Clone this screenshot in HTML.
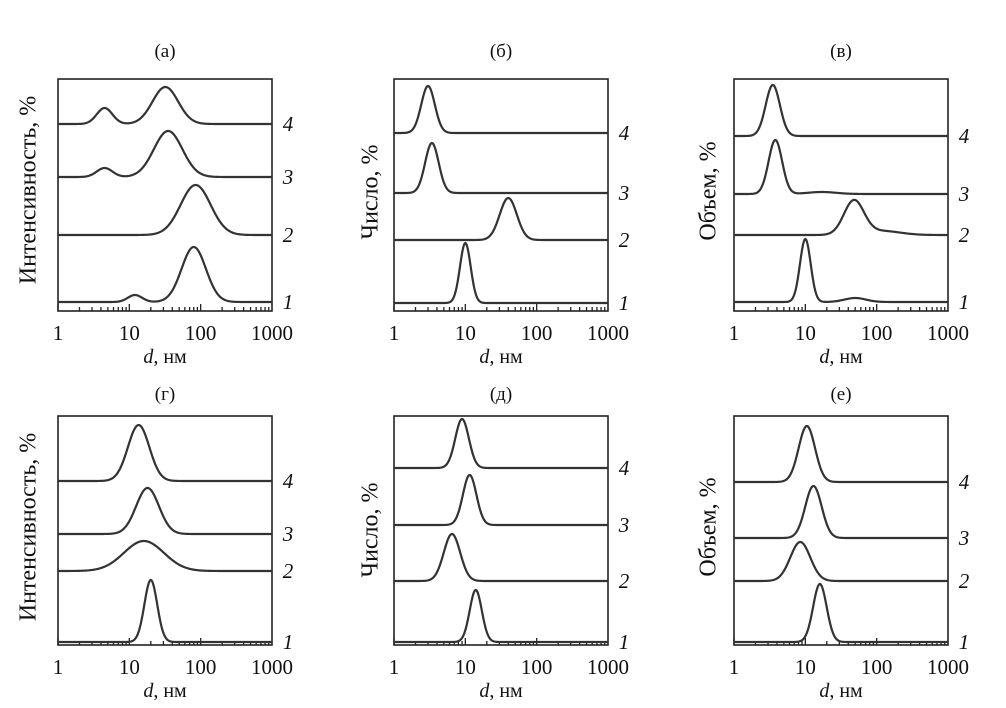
<!DOCTYPE html>
<html><head><meta charset="utf-8">
<style>
html,body{margin:0;padding:0;background:#fff;}
svg{display:block;font-family:"Liberation Serif",serif;}
</style></head>
<body>
<svg id="chart" width="1006" height="708" viewBox="0 0 1006 708"></svg>
<script>
const tickValues = [1, 10, 100, 1000];
const tickLabels = ['1', '10', '100', '1000'];
const seriesLabels = ['1', '2', '3', '4'];
const panelTitles = ['(а)', '(б)', '(в)', '(г)', '(д)', '(е)'];
const yTitles = ['Интенсивность, %', 'Число, %', 'Объем, %', 'Интенсивность, %', 'Число, %', 'Объем, %'];
// baseline offsets of curves 1..4 (units above axis)
const offsetsA = [9, 76, 134, 187];
const offsetsB = [8, 71, 118, 178];
const offsetsV = [9, 76, 117, 175];
const offsetsG = [3, 74, 111, 164];
const offsetsD = [3, 64, 120, 177];
const offsetsE = [3, 64, 107, 163];
// peaks per curve: [center nm, width (decades), amplitude]
const peaksA = [[[80,0.17,55],[12,0.1,7]], [[85,0.21,50]], [[35,0.2,46],[4.5,0.11,9]], [[32,0.18,37],[4.5,0.11,16]]];
const peaksB = [[[10,0.075,60]], [[40,0.12,42]], [[3.4,0.095,50]], [[3.0,0.095,47]]];
const peaksV = [[[10,0.075,63],[50,0.15,4]], [[48,0.14,34],[120,0.25,4]], [[3.8,0.095,54],[17,0.2,2]], [[3.5,0.1,51]]];
const peaksG = [[[20,0.09,62]], [[16,0.28,30]], [[18,0.16,46]], [[13.5,0.15,56]]];
const peaksD = [[[14,0.085,52]], [[6.5,0.115,47]], [[11.5,0.095,50]], [[9,0.095,49]]];
const peaksE = [[[16,0.095,58]], [[8.5,0.14,39]], [[13,0.115,52]], [[10.5,0.115,56]]];

const svg = document.getElementById('chart');
const NS = 'http://www.w3.org/2000/svg';
function mk(tag, attrs, parent){const e=document.createElementNS(NS,tag);for(const k in attrs)e.setAttribute(k,attrs[k]);parent.appendChild(e);return e;}

const boxes = [
  {x0:58,x1:272,y0:79,y1:311,ty:57},{x0:394,x1:608,y0:79,y1:311,ty:57},{x0:734,x1:948,y0:79,y1:311,ty:57},
  {x0:58,x1:272,y0:416,y1:645,ty:400},{x0:394,x1:608,y0:416,y1:645,ty:400},{x0:734,x1:948,y0:416,y1:645,ty:400}
];
const yTitlePos = [[30,190],[372,192],[710,191],[30,527],[372,530],[710,527]];
const allOffsets = [offsetsA, offsetsB, offsetsV, offsetsG, offsetsD, offsetsE];
const allPeaks = [peaksA, peaksB, peaksV, peaksG, peaksD, peaksE];

boxes.forEach((b, i) => {
  const g = mk('g', {}, svg);
  
  
  const H = b.y1 - b.y0;
  const xs = d => b.x0 + Math.log10(d) / 3 * (b.x1 - b.x0);
  const ys = v => b.y1 - v;
  const fr = mk('rect', {x:b.x0, y:b.y0, width:b.x1-b.x0, height:H, fill:'none', stroke:'#222', 'stroke-width':1.6}, g);
  
  
  for (let dec = 0; dec < 3; dec++) {
    for (let m = 1; m <= 9; m++) {
      const v = m * Math.pow(10, dec);
      const x = xs(v), len = m === 1 ? 7 : 4;
      const t = mk('line', {x1:x, x2:x, y1:b.y1, y2:b.y1-len, stroke:'#222', 'stroke-width':1.3}, g);
      
      
    }
  }
  tickValues.forEach((v, k) => {
    const t = mk('text', {x:xs(v), y:b.y1+29, 'text-anchor':'middle', 'font-size':21, fill:'#111'}, g);
    t.textContent = tickLabels[k];
    
    
  });
  const xt = mk('text', {x:(b.x0+b.x1)/2, y:b.y1+52, 'text-anchor':'middle', 'font-size':20, fill:'#111'}, g);
  xt.innerHTML = '<tspan font-style="italic">d</tspan>, нм';
  
  
  const pt = mk('text', {x:(b.x0+b.x1)/2, y:b.ty, 'text-anchor':'middle', 'font-size':19, fill:'#111'}, g);
  pt.textContent = panelTitles[i];
  
  
  const [tx, ty] = yTitlePos[i];
  const yt = mk('text', {x:tx, y:ty, 'text-anchor':'middle', 'dominant-baseline':'middle', 'font-size':24, fill:'#111', transform:`rotate(-90 ${tx} ${ty})`}, g);
  yt.textContent = yTitles[i];
  
  
  const offs = allOffsets[i], pks = allPeaks[i];
  offs.forEach((off, s) => {
    let d = '';
    const N = 300;
    for (let n = 0; n <= N; n++) {
      const lx = 3 * n / N, dv = Math.pow(10, lx);
      let v = 0;
      pks[s].forEach(p => { const z = (lx - Math.log10(p[0])) / p[1]; v += p[2] * Math.exp(-0.5 * z * z); });
      d += (n ? 'L' : 'M') + xs(dv).toFixed(2) + ' ' + ys(off + v).toFixed(2);
    }
    const path = mk('path', {d:d, fill:'none', stroke:'#333', 'stroke-width':2.2}, g);
    
    
    const lb = mk('text', {x:b.x1+16, y:ys(off)+7, 'text-anchor':'middle', 'font-size':21, 'font-style':'italic', fill:'#111'}, g);
    lb.textContent = seriesLabels[s];
    
    
  });
});
</script>
</body></html>
